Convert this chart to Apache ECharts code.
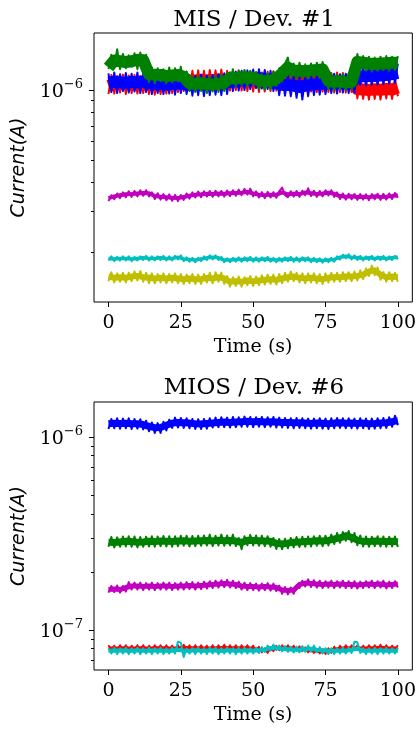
<!DOCTYPE html>
<html>
<head>
    <meta charset="utf-8">
    <title>ECharts</title>
    <script src="https://cdn.jsdelivr.net/npm/echarts@6/dist/echarts.min.js"></script>
    <style>
        html, body { margin: 0; padding: 0; background: #fff; }
    </style>
</head>
<body>
    <div id="main" style="width: 419px;height:729px;"></div>
    <script type="text/javascript">
        // time (s): raw samples every 1 s, band centre every 2 s
        var t = [0,1,2,3,4,5,6,7,8,9,10,11,12,13,14,15,16,17,18,19,20,21,22,23,24,25,26,27,28,29,
                 30,31,32,33,34,35,36,37,38,39,40,41,42,43,44,45,46,47,48,49,50,51,52,53,54,55,56,57,58,59,
                 60,61,62,63,64,65,66,67,68,69,70,71,72,73,74,75,76,77,78,79,80,81,82,83,84,85,86,87,88,89,
                 90,91,92,93,94,95,96,97,98,99,100];
        var t2 = [0,2,4,6,8,10,12,14,16,18,20,22,24,26,28,30,32,34,36,38,40,42,44,46,48,50,
                  52,54,56,58,60,62,64,66,68,70,72,74,76,78,80,82,84,86,88,90,92,94,96,98,100];
        var xTicks = [0, 25, 50, 75, 100];

        // MIS / Dev. #1, currents in nA; *_raw = noise excursions, *_mid = band centre
        var mis_r_raw = [960,1160,965,1150,975,1165,960,1155,970,1160, 965,1150,970,1155,960,1150,955,1145,960,1150,
                     965,1160,970,1165,980,1180,990,1200,1000,1210, 1005,1215,1000,1210,995,1220,1000,1215,1005,1225,
                     1000,1210,995,1205,1000,1215,995,1205,990,1200, 985,1195,980,1190,985,1200,990,1205,995,1215,
                     1000,1225,1005,1215,1000,1210,995,1200,990,1195, 985,1190,980,1195,985,1190,980,1185,975,1190,
                     980,1185,975,1180,980,1175,920,1100,915,1095, 910,1090,915,1100,910,1095,920,1100,915,1120, 940];
        var mis_b_raw = [1180,980,1190,970,1170,990,1185,975,1175,985, 1190,970,1180,980,1160,960,1165,970,1150,960,
                     1160,965,1170,955,1160,970,1150,960,1160,945, 1150,950,1165,940,1155,950,1160,955,1170,950,
                     1180,960,1190,990,1200,995,1210,1000,1215,1010, 1225,1020,1230,1015,1220,1010,1210,990,1160,950,
                     1150,945,1155,940,1150,925,1140,910,1145,940, 1160,950,1155,955,1165,960,1170,970,1175,965,
                     1170,975,1175,970,1180,975,1250,1050,1255,1045, 1260,1050,1265,1055,1270,1060,1275,1065,1290,1075, 1300];
        var mis_g_raw = [1230,1420,1250,1500,1230,1430,1240,1410,1260,1440, 1230,1450,1250,1420,1080,1250,1070,1240,1090,1230,
                     1070,1250,1080,1240,1090,1260,1060,1200,990,1140, 980,1150,990,1130,970,1140,985,1150,980,1160,
                     990,1180,1060,1230,1040,1210,1050,1220,1040,1210, 1060,1190,1010,1170,1000,1180,1010,1200,1040,1240,
                     1090,1300,1380,1130,1300,1120,1310,1130,1290,1120, 1300,1140,1310,1130,1320,1150,1010,1170,1000,1160,
                     1010,1170,1000,1160,1010,1150,1430,1220,1400,1210, 1390,1200,1380,1210,1390,1220,1400,1210,1390,1220, 1400];
        var mis_m_raw = [332,352,338,358,342,362,345,366,346,367, 348,370,350,370,348,362,339,359,337,356,
                     335,355,333,353,332,353,336,358,340,362, 344,365,345,366,347,367,346,368,348,367,
                     347,369,349,370,350,372,352,375,354,376, 348,366,344,363,342,364,344,363,343,366,
                     380,352,345,366,347,367,346,368,352,377, 349,368,346,367,348,370,351,370,346,362,
                     339,358,337,357,338,356,336,356,337,355, 335,356,338,357,336,357,337,358,339,360, 343];
        var mis_c_raw = [184,192,183,191,184,192,184,192,183,191, 184,192,185,193,184,192,184,192,185,193,
                     184,192,184,193,186,194,183,190,182,189, 181,189,183,192,185,194,186,194,185,191,
                     181,188,181,189,182,190,182,190,183,191, 182,190,182,190,183,191,182,189,181,189,
                     182,190,183,191,182,190,182,190,183,190, 181,189,181,188,180,188,181,189,182,192,
                     186,195,188,196,186,194,185,193,184,192, 185,193,184,192,185,193,184,192,185,193, 186];
        var mis_y_raw = [150,164,148,162,149,163,148,163,150,165, 151,166,149,163,147,162,147,161,148,162,
                     147,161,148,162,147,161,146,160,147,161, 146,160,146,161,148,163,147,164,149,163,
                     146,158,142,156,143,157,142,156,144,158, 143,157,144,159,145,160,146,160,145,161,
                     147,163,149,165,150,163,148,162,147,162, 148,162,147,161,146,162,148,163,149,163,
                     149,164,150,164,150,165,151,167,153,170, 158,175,159,172,152,164,149,164,150,163, 149];

        var mis_r_mid = [1040,1060,1065,1058,1062,1055,1060,1050,1052,1045,1055,1060,1070,1080,1095,1100,1105,1098,1105,1110,1100,1095,1105,1100,1095,1090,
                         1085,1090,1095,1100,1110,1115,1105,1100,1095,1090,1085,1090,1085,1080,1088,1085,1080,1010,1005,1000,1008,1003,1010,1005,1025];
        var mis_b_mid = [1075,1085,1080,1070,1085,1078,1090,1070,1065,1060,1055,1065,1070,1060,1050,1045,1055,1050,1060,1065,1075,1085,1090,1100,1110,1120,
                         1125,1115,1100,1070,1055,1050,1045,1030,1045,1055,1060,1065,1070,1075,1068,1072,1078,1140,1145,1150,1150,1155,1160,1170,1185];
        var mis_g_mid = [1250,1340,1330,1320,1330,1350,1345,1170,1165,1160,1150,1155,1160,1140,1070,1065,1070,1060,1055,1065,1075,1130,1120,1135,1130,1130,
                         1100,1090,1095,1120,1180,1250,1215,1210,1205,1215,1220,1225,1095,1085,1090,1080,1085,1320,1310,1300,1295,1300,1305,1310,1310];
        var mis_m_mid = [342,348,352,355,356,358,360,359,349,347,345,343,342,346,350,354,355,357,356,358,357,359,360,361,364,358,
                         354,352,354,353,362,355,357,356,362,359,356,358,361,357,349,347,348,346,347,345,348,346,347,349,352];
        var mis_c_mid = [188,187,188,188,187,188,189,188,188,189,188,188,190,187,186,185,187,189,190,189,185,185,186,186,187,186,
                         186,187,186,185,186,187,186,186,187,185,185,184,185,186,190,192,190,189,188,189,188,189,188,189,190];
        var mis_y_mid = [157,155,156,155,157,158,156,155,154,155,154,155,154,153,154,153,153,155,154,156,154,149,150,149,151,150,
                         151,152,153,152,154,156,157,155,154,155,154,153,155,156,156,157,157,158,160,165,167,160,156,157,156];

        // MIOS / Dev. #6, currents in nA
        var mios_b_raw = [1100,1240,1110,1250,1105,1245,1110,1250,1100,1240, 1105,1235,1095,1215,1070,1190,1050,1180,1050,1200,
                      1080,1230,1115,1260,1120,1255,1115,1250,1110,1240, 1100,1235,1100,1240,1105,1250,1120,1260,1125,1265,
                      1125,1260,1120,1270,1125,1265,1130,1275,1130,1270, 1125,1265,1130,1270,1125,1265,1130,1270,1120,1260,
                      1120,1255,1115,1250,1110,1255,1115,1250,1110,1245, 1105,1245,1110,1250,1105,1245,1100,1250,1110,1255,
                      1115,1250,1110,1250,1110,1245,1105,1250,1110,1245, 1100,1245,1105,1250,1110,1255,1115,1265,1130,1290, 1150];
        var mios_g_raw = [270,303,268,302,270,305,271,306,270,305, 268,303,270,304,271,306,270,305,272,307,
                      271,306,270,306,272,308,273,308,271,307, 272,308,273,309,274,312,272,308,274,312,
                      273,309,274,312,272,300,262,306,275,311, 274,309,273,308,272,306,270,300,263,296,
                      262,297,265,300,268,303,269,304,270,305, 271,306,273,308,272,308,274,312,279,318,
                      283,322,290,326,285,318,275,309,271,305, 270,304,272,306,271,305,270,304,271,305, 269];
        var mios_m_raw = [156,169,157,170,156,169,158,177,162,176, 162,176,161,175,162,176,161,175,162,176,
                      162,176,161,175,162,176,162,177,163,177, 162,176,163,178,164,179,165,180,166,181,
                      167,182,166,180,165,178,162,176,161,175, 161,174,160,174,161,175,160,174,159,170,
                      154,167,153,166,154,170,165,180,168,183, 167,181,166,180,165,179,166,180,165,179,
                      166,180,165,179,165,179,164,178,165,179, 166,180,165,179,166,180,164,178,165,179, 166];
        var mios_r_raw = [83.5,79,83,78.5,83.5,79,83.5,78.5,83,79, 83.5,79,83.5,78.5,83,79,83.5,79,83.5,78.5,
                      83.5,79,83,79,83.5,79,84,79,83.5,78.5, 83.5,79,83.5,79,83,78.5,83.5,79,83.5,79,
                      84,79,83.5,79,83.5,78.5,83.5,79,83.5,79, 83,78,82,76.5,80.5,76,81.5,77.5,83,78.5,
                      83.5,79,83.5,78.5,83,78,82.5,77.5,81.5,76.5, 80.5,76,80,75.5,79.5,75,80.5,76,82,77.5,
                      83,78.5,83.5,79,83.5,79,83.5,78.5,83,79, 83.5,79,83.5,79,84,79,83.5,78.5,83,79, 83.5];
        var mios_c_raw = [80.5,75.5,81,75,80.5,75.5,81,75,80.5,75.5, 81,75,80.5,75.5,81,75,80.5,75.5,81,75,
                      80.5,75.5,81,75.5,87,86,72.5,80,75.5,80.5, 75,81,75.5,80.5,75,81,75.5,81,75,80.5,
                      75.5,81,75.5,80.5,75,81,75.5,81,75.5,80.5, 75.5,81,76,81.5,77,83,78.5,84,78.5,83,
                      77.5,82.5,77,82,76.5,82,76.5,82.5,77,83, 77.5,83,76.5,81.5,75.5,80.5,75,80.5,75,80.5,
                      75.5,81,75.5,81,76,87,86.5,76,80.5,75, 80.5,75.5,81,75,80.5,75.5,81,75.5,80.5,75.5, 81];

        var mios_b_mid = [1170,1178,1175,1178,1172,1170,1160,1135,1118,1120,1150,1180,1190,1185,1180,1170,1168,1175,1182,1190,1195,1188,1196,1200,1205,1198,
                          1202,1196,1200,1195,1190,1188,1185,1185,1180,1175,1180,1178,1172,1180,1185,1178,1182,1176,1180,1172,1175,1180,1185,1200,1215];
        var mios_g_mid = [285,284,286,288,287,285,286,288,287,289,288,287,289,290,288,289,290,291,289,292,290,291,289,284,292,291,
                          290,289,288,281,279,282,285,286,287,288,290,289,291,296,300,308,302,292,288,287,289,288,287,288,286];
        var mios_m_mid = [162,163,162,166,169,169,168,169,168,169,169,168,169,169,170,169,170,171,172,173,174,173,172,169,168,168,
                          167,168,167,166,161,160,161,172,175,174,173,172,173,172,173,172,172,171,172,173,172,173,171,172,173];
        var mios_r_mid = [81,80.5,81,81,80.5,81,81,80.5,81,81,81,80.5,81,81.5,81,81,81,80.5,81,81,81.5,81,81,81,81,80.5,
                          79.5,78,79,80.5,81,81,80.5,80,79,78,77.5,77,78,79.5,80.5,81,81,81,80.5,81,81,81.5,81,80.5,81];
        var mios_c_mid = [78,78,78.5,78,78,78.5,78,78,78.5,78,78,78,79,78,78,78.5,78,78,78.5,78,78,78.5,78,78,78.5,78,
                          78.5,79,80.5,81,80,79.5,79,79,79.5,80,79,78.5,78,78,78,78,79,80,78,78,78,78.5,78,78,78];

        var serif = 'DejaVu Serif';

        // values are plotted as log10(A) on a linear axis
        function pts(tt, arr) {
            return arr.map(function (v, i) { return [tt[i], Math.log10(v * 1e-9)]; });
        }
        function logs(list) {
            return list.map(function (v) { return Math.log10(v); });
        }

        var myChart = echarts.init(document.getElementById('main'));

        function xAxisOf(g) {
            return {
                type: 'value', gridIndex: g, min: -5, max: 105,
                axisLine: {show: false, onZero: false},
                splitLine: {show: false},
                axisTick: {customValues: xTicks, length: 5, lineStyle: {color: '#000', width: 1}},
                axisLabel: {customValues: xTicks, margin: 12, color: '#000', fontFamily: serif, fontSize: 19},
                name: 'Time (s)', nameLocation: 'middle', nameGap: 36,
                nameTextStyle: {color: '#000', fontFamily: serif, fontSize: 19}
            };
        }
        function yMajor(g, min, max, ticks) {
            return {
                type: 'value', gridIndex: g, min: min, max: max, position: 'left', offset: 0,
                axisLine: {show: false, onZero: false},
                splitLine: {show: false},
                axisTick: {customValues: ticks, length: 5, lineStyle: {color: '#000', width: 1}},
                axisLabel: {
                    customValues: ticks, margin: 11,
                    formatter: function (v) { return '{b|10}{s|\u2212' + Math.round(-v) + '}'; },
                    rich: {
                        b: {fontFamily: serif, fontSize: 19, lineHeight: 24, color: '#000', verticalAlign: 'bottom'},
                        s: {fontFamily: serif, fontSize: 13, lineHeight: 13, color: '#000', verticalAlign: 'top'}
                    }
                },
                name: 'Current(A)', nameLocation: 'middle', nameGap: 62, nameRotate: 90,
                nameTextStyle: {color: '#000', fontFamily: 'DejaVu Sans', fontStyle: 'italic', fontSize: 19}
            };
        }
        function yMinor(g, min, max, ticks) {
            return {
                type: 'value', gridIndex: g, min: min, max: max, position: 'left', offset: 0,
                axisLine: {show: false, onZero: false},
                splitLine: {show: false},
                axisLabel: {show: false},
                axisTick: {customValues: ticks, length: 3, lineStyle: {color: '#000', width: 1}}
            };
        }
        function line(name, tt, arr, color, width, xi, yi) {
            return {
                name: name, type: 'line', xAxisIndex: xi, yAxisIndex: yi,
                data: pts(tt, arr), showSymbol: false, symbol: 'none',
                lineStyle: {color: color, width: width, join: 'round'}
            };
        }
        // one trace = solid centre band + noisy raw samples on top
        function trace(name, mid, raw, color, core, thin, xi, yi) {
            return [line(name, t2, mid, color, core, xi, yi), line(name, t, raw, color, thin, xi, yi)];
        }

        var minorTop = logs([2e-7,3e-7,4e-7,5e-7,6e-7,7e-7,8e-7,9e-7]);
        var minorBot = logs([7e-8,8e-8,9e-8,2e-7,3e-7,4e-7,5e-7,6e-7,7e-7,8e-7,9e-7]);

        option = {
            animation: false,
            backgroundColor: '#fff',
            title: [
                {text: 'MIS / Dev. #1', left: 249, top: 4, textAlign: 'center',
                 textStyle: {fontFamily: serif, fontSize: 23, fontWeight: 'normal', color: '#000'}},
                {text: 'MIOS / Dev. #6', left: 249, top: 372, textAlign: 'center',
                 textStyle: {fontFamily: serif, fontSize: 23, fontWeight: 'normal', color: '#000'}}
            ],
            grid: [
                {left: 94, top: 33, width: 320, height: 269, show: true, borderColor: '#000', borderWidth: 1},
                {left: 94, top: 402, width: 320, height: 268, show: true, borderColor: '#000', borderWidth: 1}
            ],
            xAxis: [xAxisOf(0), xAxisOf(1)],
            yAxis: [
                yMajor(0, -6.9138, -5.7543, [-6]),
                yMinor(0, -6.9138, -5.7543, minorTop),
                yMajor(1, -7.2073, -5.8187, [-6, -7]),
                yMinor(1, -7.2073, -5.8187, minorBot)
            ],
            series: [].concat(
                trace('r', mis_r_mid, mis_r_raw, '#ff0000', 12, 2, 0, 0),
                trace('b', mis_b_mid, mis_b_raw, '#0000ff', 12, 2, 0, 0),
                trace('g', mis_g_mid, mis_g_raw, '#008000', 12, 2, 0, 0),
                trace('m', mis_m_mid, mis_m_raw, '#bf00bf', 4, 2, 0, 0),
                trace('c', mis_c_mid, mis_c_raw, '#00bfbf', 3.5, 2, 0, 0),
                trace('y', mis_y_mid, mis_y_raw, '#bfbf00', 6, 2, 0, 0),
                trace('b', mios_b_mid, mios_b_raw, '#0000ff', 7, 2, 1, 2),
                trace('g', mios_g_mid, mios_g_raw, '#008000', 7, 2, 1, 2),
                trace('m', mios_m_mid, mios_m_raw, '#bf00bf', 5, 2, 1, 2),
                trace('r', mios_r_mid, mios_r_raw, '#ff0000', 3, 1.8, 1, 2),
                trace('c', mios_c_mid, mios_c_raw, '#00bfbf', 4, 2, 1, 2)
            )
        };
        myChart.setOption(option);
    </script>
</body>
</html>
